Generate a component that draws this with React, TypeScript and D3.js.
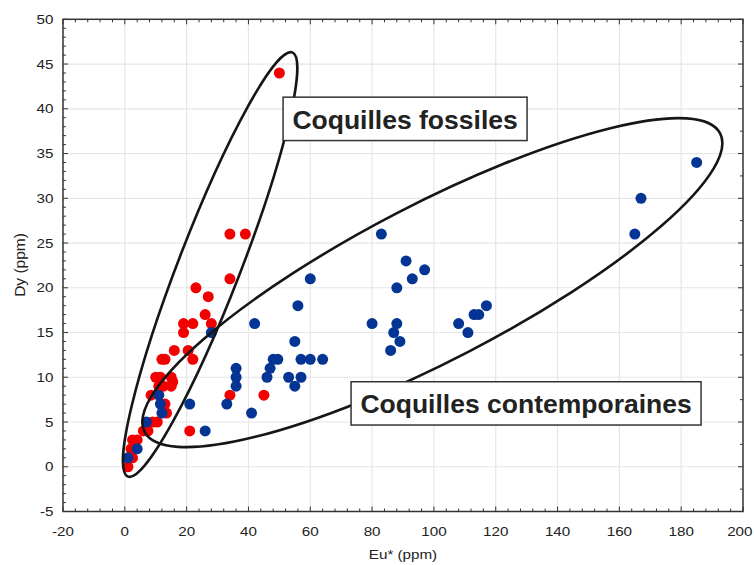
import React from "react";
import * as d3 from "d3";

// Fossil shells (red)
const fossilEu = [50, 34, 39, 34, 23, 27, 26, 28, 19, 22, 19, 16, 20.5, 12, 13, 22, 10, 11.5, 15, 15.5, 11, 12.5, 15, 8.5, 34, 45, 13, 13.5, 9, 10.5, 21, 7.5, 6, 2.5, 4, 2, 2.5, 1];
const fossilDy = [44, 26, 26, 21, 20, 19, 17, 16, 16, 16, 15, 13, 13, 12, 12, 12, 10, 10, 10, 9.5, 9, 9, 9, 8, 8, 8, 7, 6, 5, 5, 4, 4, 4, 3, 3, 2, 1, 0];

// Contemporary shells (blue)
const contempEu = [185, 167, 165, 83, 91, 97, 93, 88, 60, 56, 117, 113, 114.5, 80, 88, 108, 42, 87, 111, 28, 55, 89, 86, 48, 49.5, 57, 60, 64, 47, 36, 46, 36, 53, 57, 36, 55, 11, 11.5, 12, 21, 33, 41, 7, 26, 4, 1];
const contempDy = [34, 30, 26, 26, 23, 22, 21, 20, 21, 18, 18, 17, 17, 16, 16, 16, 16, 15, 15, 15, 14, 14, 13, 12, 12, 12, 12, 12, 11, 11, 10, 10, 10, 10, 9, 9, 8, 7, 6, 7, 7, 6, 5, 4, 2, 1];

const xTicks = [-20, 0, 20, 40, 60, 80, 100, 120, 140, 160, 180, 200];
const yTicks = [-5, 0, 5, 10, 15, 20, 25, 30, 35, 40, 45, 50];

// Ellipse annotations: major-axis tips in data units
const fossilTips = [[1.0, -1.1], [54.2, 46.3]];
const contempTips = [[6.4, 3.9], [192.6, 37.25]];

const labels = ["Coquilles fossiles", "Coquilles contemporaines"];
const labelAnchors = [[51.2, 41.3], [73.2, 9.5]];

const W = 754;
const H = 565;
const FONT = "'Liberation Sans', Arial, sans-serif";
const SX = 1.17;

export default function App() {
  const x = d3.scaleLinear().domain([-20, 200]).range([63, 743]);
  const y = d3.scaleLinear().domain([-5, 50]).range([511.5, 19.3]);
  const [x0, x1] = x.range();
  const [y0, y1] = y.range();

  const xMinor = d3.range(-20, 200.01, 4);
  const yMinor = d3.range(-5, 50.01, 1);
  const yMinorR = d3.range(-5, 50.01, 2.5);

  const ellipse = (tips: number[][], b: number, key: string) => {
    const px1 = x(tips[0][0]), py1 = y(tips[0][1]);
    const px2 = x(tips[1][0]), py2 = y(tips[1][1]);
    const cx = (px1 + px2) / 2, cy = (py1 + py2) / 2;
    const a = Math.hypot(px2 - px1, py2 - py1) / 2;
    const ang = (Math.atan2(py2 - py1, px2 - px1) * 180) / Math.PI;
    return (
      <ellipse key={key} transform={`translate(${cx},${cy}) rotate(${ang})`} rx={a} ry={b}
        fill="none" stroke="#161616" strokeWidth={2.6} />
    );
  };

  const boxSizes = [[244, 43.4], [350, 43.3]];

  return (
    <svg width={W} height={H} style={{ position: "absolute", left: 0, top: 0, background: "#fff" }}
      fontFamily={FONT}>
      <rect x={0} y={0} width={W} height={H} fill="#fff" />
      {/* grid */}
      {xTicks.slice(1, -1).map((t) => (
        <line key={"gx" + t} x1={x(t)} x2={x(t)} y1={y1} y2={y0} stroke="#e6e6e6" strokeWidth={1.2} />
      ))}
      {yTicks.slice(1, -1).map((t) => (
        <line key={"gy" + t} x1={x0} x2={x1} y1={y(t)} y2={y(t)} stroke="#e6e6e6" strokeWidth={1.2} />
      ))}
      {/* minor ticks */}
      {xMinor.map((t) => (
        <g key={"mx" + t}>
          <line x1={x(t)} x2={x(t)} y1={y0} y2={y0 - (t % 20 === 0 ? 5 : 3)} stroke="#333" strokeWidth={1} />
          <line x1={x(t)} x2={x(t)} y1={y1} y2={y1 + (t % 20 === 0 ? 5 : 3)} stroke="#333" strokeWidth={1} />
        </g>
      ))}
      {yMinor.map((t) => (
        <line key={"my" + t} x1={x0} x2={x0 + (t % 5 === 0 ? 5 : 3)} y1={y(t)} y2={y(t)} stroke="#333" strokeWidth={1} />
      ))}
      {yMinorR.map((t) => (
        <line key={"myr" + t} x1={x1} x2={x1 - (t % 5 === 0 ? 5 : 3)} y1={y(t)} y2={y(t)} stroke="#333" strokeWidth={1} />
      ))}
      {/* points */}
      {fossilEu.map((v, i) => (
        <circle key={"f" + i} cx={x(v)} cy={y(fossilDy[i])} r={5.5} fill="#f20000" />
      ))}
      {contempEu.map((v, i) => (
        <circle key={"c" + i} cx={x(v)} cy={y(contempDy[i])} r={5.5} fill="#043594" />
      ))}
      {/* ellipses */}
      {ellipse(fossilTips, 31, "ef")}
      {ellipse(contempTips, 78, "ec")}
      {/* frame */}
      <rect x={x0} y={y1} width={x1 - x0} height={y0 - y1} fill="none" stroke="#333" strokeWidth={1.5} />
      {/* tick labels */}
      {xTicks.map((t, i) => {
        const last = i === xTicks.length - 1;
        return (
          <text key={"tx" + t} transform={`translate(${last ? W - 1.5 : x(t)},${536}) scale(${SX},1)`}
            textAnchor={last ? "end" : "middle"} fontSize={13} fill="#222">{t}</text>
        );
      })}
      {yTicks.map((t) => (
        <text key={"ty" + t} transform={`translate(${53.5},${y(t) + 4.7}) scale(${SX},1)`} textAnchor="end" fontSize={13} fill="#222">{t}</text>
      ))}
      <text transform={`translate(403,559) scale(${SX},1)`} textAnchor="middle" fontSize={13} fill="#222">Eu* (ppm)</text>
      <text transform={`translate(25,265) rotate(-90)`} textAnchor="middle" fontSize={15.5} fill="#222">Dy (ppm)</text>
      {/* annotation boxes */}
      {labels.map((l, i) => {
        const bx = x(labelAnchors[i][0]);
        const by = y(labelAnchors[i][1]);
        return (
          <g key={"lb" + i}>
            <rect x={bx} y={by} width={boxSizes[i][0]} height={boxSizes[i][1]} fill="#fff" stroke="#333" strokeWidth={1.5} />
            <text x={bx + boxSizes[i][0] / 2} y={by + 31.4} textAnchor="middle" fontSize={26.5} fontWeight="bold" fill="#222">{l}</text>
          </g>
        );
      })}
    </svg>
  );
}
